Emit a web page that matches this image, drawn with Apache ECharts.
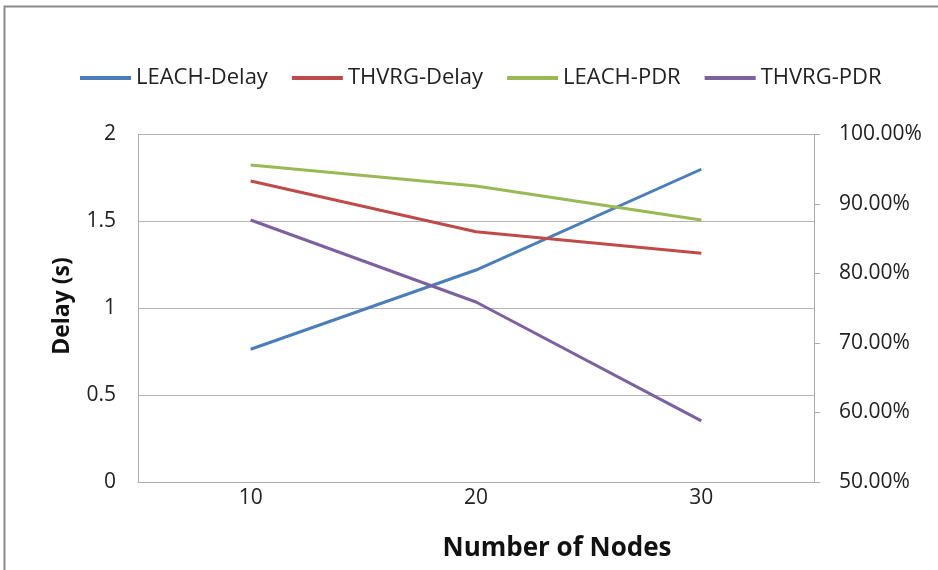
<!DOCTYPE html>
<html><head><meta charset="utf-8">
<script src="https://cdn.jsdelivr.net/npm/echarts@6/dist/echarts.min.js"></script>
<style>html,body{margin:0;padding:0;background:#fff}#c{width:938px;height:570px}</style>
</head><body><div id="c"></div>
<script>
const categories = ['10', '20', '30'];
const leachDelay = [0.764, 1.22, 1.80];
const thvrgDelay = [1.732, 1.44, 1.316];
const leachPDR = [95.6, 92.6, 87.7];
const thvrgPDR = [87.7, 75.9, 58.8];
const seriesNames = ['LEACH-Delay', 'THVRG-Delay', 'LEACH-PDR', 'THVRG-PDR'];
const colors = ['#4a7ebb', '#be4b48', '#98b954', '#7d60a0'];

const font = '"Open Sans", Lato, sans-serif';
const chart = echarts.init(document.getElementById('c'), null, {renderer: 'canvas'});
const mk = (name, data, axis, color) => ({
  name, type: 'line', data, yAxisIndex: axis, symbol: 'none',
  lineStyle: {width: 3, color}, itemStyle: {color}, animation: false
});
chart.setOption({
  animation: false,
  backgroundColor: '#fff',
  color: colors,
  legend: {
    top: 62, left: 75, itemWidth: 51, itemHeight: 4, itemGap: 24,
    icon: 'rect',
    textStyle: {fontFamily: font, fontSize: 22, color: '#222'},
    data: seriesNames
  },
  grid: {left: 138, right: 124, top: 134.5, bottom: 88, containLabel: false},
  xAxis: {
    type: 'category', data: categories, boundaryGap: true,
    axisLine: {lineStyle: {color: '#aaa', width: 1}},
    axisTick: {show: false},
    axisLabel: {fontFamily: font, fontSize: 21, color: '#222', margin: 6}
  },
  yAxis: [{
    type: 'value', min: 0, max: 2, interval: 0.5,
    axisLine: {show: true, lineStyle: {color: '#aaa'}},
    axisTick: {show: false},
    splitLine: {lineStyle: {color: '#b5b5b5', width: 1}},
    axisLabel: {fontFamily: font, fontSize: 21, color: '#222', margin: 22}
  }, {
    type: 'value', min: 50, max: 100, interval: 10, position: 'right',
    axisLine: {show: true, lineStyle: {color: '#aaa'}},
    axisTick: {show: true, length: 6, lineStyle: {color: '#aaa'}},
    splitLine: {show: false},
    axisLabel: {fontFamily: font, fontSize: 21, color: '#222', margin: 25,
      formatter: v => v.toFixed(2) + '%'}
  }],
  graphic: [
    {type: 'rect', shape: {x: 4.5, y: 6.5, width: 960, height: 600},
     style: {fill: null, stroke: '#8c8c8c', lineWidth: 2}, silent: true},
    {type: 'text', x: 557, y: 549,
     style: {text: 'Number of Nodes', font: 'bold 26px ' + font, fill: '#111',
       align: 'center', verticalAlign: 'middle'}},
    {type: 'text', x: 62, y: 306, rotation: Math.PI / 2,
     style: {text: 'Delay (s)', font: 'bold 23px ' + font, fill: '#111',
       align: 'center', verticalAlign: 'middle'}}
  ],
  series: [
    mk(seriesNames[0], leachDelay, 0, colors[0]),
    mk(seriesNames[1], thvrgDelay, 0, colors[1]),
    mk(seriesNames[2], leachPDR, 1, colors[2]),
    mk(seriesNames[3], thvrgPDR, 1, colors[3])
  ]
});
</script></body></html>
